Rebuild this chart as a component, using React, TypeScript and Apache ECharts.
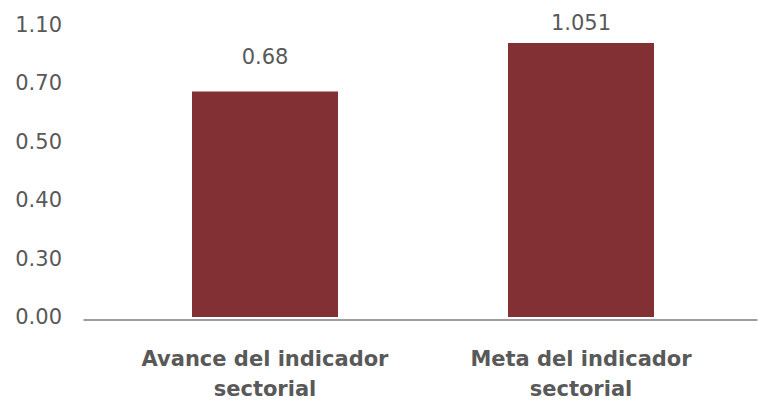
import React, { useEffect, useRef } from "react";
import * as echarts from "echarts";

const categories = ["Avance del indicador\nsectorial", "Meta del indicador\nsectorial"];
const barValues = [0.68, 1.051];
const barValueLabels = ["0.68", "1.051"];
// bar heights, on the chart's evenly spaced tick scale (tick index units)
const barHeights = [3.86, 4.69];
const tickLabels = ["0.00", "0.30", "0.40", "0.50", "0.70", "1.10"];

const FONT = "DejaVu Sans";
const TEXT = "#595959";
const BAR = "#833034";

export default function App() {
  const ref = useRef<HTMLDivElement>(null);
  useEffect(() => {
    if (!ref.current) return;
    const chart = echarts.init(ref.current, undefined, { renderer: "svg" });
    const labelDistances = [24, 10];
    chart.setOption({
      animation: false,
      textStyle: { fontFamily: FONT },
      grid: [
        { left: 107, right: 19, top: 25, bottom: 84 },
        { left: 84, right: 1, top: 25, bottom: 84 },
      ],
      xAxis: [
        {
          type: "category",
          gridIndex: 0,
          data: categories,
          axisLine: { show: false },
          axisTick: { show: false },
          axisLabel: {
            interval: 0,
            hideOverlap: false,
            color: TEXT,
            fontFamily: FONT,
            fontSize: 21,
            fontWeight: "bold",
            lineHeight: 30,
            margin: 27,
          },
        },
        {
          type: "category",
          gridIndex: 1,
          data: ["", ""],
          axisLine: { show: true, lineStyle: { color: "#7f7f7f", width: 1.5 } },
          axisTick: { show: false },
          axisLabel: { show: false },
        },
      ],
      yAxis: [
        {
          type: "value",
          gridIndex: 0,
          min: 0,
          max: tickLabels.length - 1,
          interval: 1,
          splitLine: { show: false },
          axisLine: { show: false },
          axisTick: { show: false },
          axisLabel: {
            color: TEXT,
            fontFamily: FONT,
            fontSize: 21,
            margin: 45,
            formatter: (v: number) => tickLabels[Math.round(v)] ?? "",
          },
        },
        {
          type: "value",
          gridIndex: 1,
          min: 0,
          max: tickLabels.length - 1,
          show: false,
          splitLine: { show: false },
        },
      ],
      series: [
        {
          type: "bar",
          xAxisIndex: 0,
          yAxisIndex: 0,
          barWidth: 146,
          itemStyle: { color: BAR },
          data: barHeights.map((h, i) => ({
            value: h,
            realValue: barValues[i],
            label: {
              show: true,
              position: "top",
              distance: labelDistances[i],
              color: TEXT,
              fontFamily: FONT,
              fontSize: 21,
              formatter: () => barValueLabels[i],
            },
          })),
        },
      ],
    });
    return () => chart.dispose();
  }, []);
  return <div ref={ref} style={{ width: 758, height: 404, position: "absolute", left: 0, top: 0 }} />;
}
